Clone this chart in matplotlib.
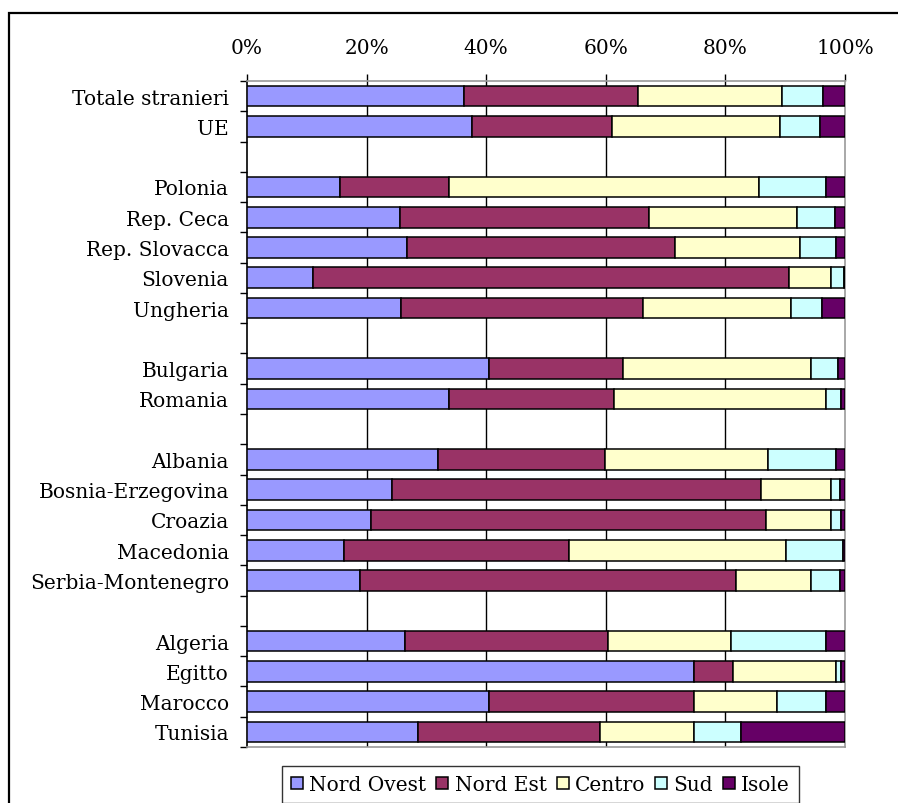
import matplotlib
matplotlib.use("Agg")
import matplotlib.pyplot as plt
from matplotlib.patches import Rectangle
import numpy as np

# Rows top to bottom; "" marks an empty spacer row between country groups.
categories = [
    "Totale stranieri", "UE", "",
    "Polonia", "Rep. Ceca", "Rep. Slovacca", "Slovenia", "Ungheria", "",
    "Bulgaria", "Romania", "",
    "Albania", "Bosnia-Erzegovina", "Croazia", "Macedonia", "Serbia-Montenegro", "",
    "Algeria", "Egitto", "Marocco", "Tunisia",
]

# Percentage share by macro-area (0 on spacer rows)
nord_ovest = [36.3, 37.6, 0, 15.6, 25.6, 26.8, 11.0, 25.8, 0, 40.4, 33.7, 0,
              31.9, 24.3, 20.7, 16.2, 18.9, 0, 26.4, 74.7, 40.5, 28.6]
nord_est = [29.1, 23.5, 0, 18.1, 41.6, 44.7, 79.7, 40.5, 0, 22.5, 27.7, 0,
            28.0, 61.7, 66.1, 37.7, 62.8, 0, 33.9, 6.6, 34.2, 30.4]
centro = [24.1, 28.1, 0, 51.9, 24.7, 21.0, 6.9, 24.7, 0, 31.4, 35.5, 0,
          27.2, 11.6, 10.8, 36.2, 12.6, 0, 20.7, 17.2, 13.9, 15.7]
sud = [6.9, 6.7, 0, 11.3, 6.4, 6.0, 2.2, 5.2, 0, 4.6, 2.5, 0,
       11.4, 1.6, 1.8, 9.6, 4.9, 0, 15.8, 0.8, 8.1, 7.9]
isole = [3.6, 4.1, 0, 3.1, 1.7, 1.5, 0.2, 3.8, 0, 1.1, 0.6, 0,
         1.5, 0.8, 0.6, 0.3, 0.8, 0, 3.2, 0.7, 3.2, 17.4]

series = [
    ("Nord Ovest", nord_ovest, "#9999FF"),
    ("Nord Est", nord_est, "#993366"),
    ("Centro", centro, "#FFFFCC"),
    ("Sud", sud, "#CCFFFF"),
    ("Isole", isole, "#660066"),
]

plt.rcParams["font.family"] = ["DejaVu Serif"]
FS = 14.5

W, H = 898, 804
fig = plt.figure(figsize=(W / 100, H / 100), dpi=100)
ax = fig.add_axes([247 / W, 1 - 748 / H, (845 - 247) / W, (748 - 82) / H])

y = np.arange(len(categories))
total = np.sum([np.array(s[1], dtype=float) for s in series], axis=0)
mask = total > 0
left = np.zeros(len(categories))
handles = []
for name, vals, color in series:
    vals = np.array(vals, dtype=float)
    share = np.divide(vals, total, out=np.zeros_like(vals), where=mask) * 100
    bars = ax.barh(y[mask], share[mask], left=left[mask], height=0.68,
                   color=color, edgecolor="black", linewidth=1.1, zorder=3)
    handles.append(bars)
    left += share

ax.set_xlim(0, 100)
ax.set_ylim(len(categories) - 0.5, -0.5)

# percent axis on top, black vertical gridlines
ax.xaxis.tick_top()
ax.set_xticks([0, 20, 40, 60, 80, 100])
ax.set_xticklabels([f"{v}%" for v in range(0, 101, 20)], fontsize=FS)
ax.tick_params(axis="x", direction="out", length=5, width=1, pad=12, color="black")
for v in [20, 40, 60, 80]:
    ax.axvline(v, color="black", lw=1, zorder=1)

# category labels centred on rows, tick marks on row boundaries
ax.set_yticks(y)
ax.set_yticklabels(categories, fontsize=FS)
ax.tick_params(axis="y", which="major", length=0, pad=13)
ax.set_yticks(np.arange(len(categories) + 1) - 0.5, minor=True)
ax.tick_params(axis="y", which="minor", direction="out", length=5, width=1, color="black")

for side in ["top", "right", "bottom"]:
    ax.spines[side].set_color("#999999")
    ax.spines[side].set_linewidth(1.2)
ax.spines["left"].set_color("black")
ax.spines["left"].set_linewidth(1.2)

leg = fig.legend(handles, [s[0] for s in series], ncol=5, loc="upper left",
                 bbox_to_anchor=(282 / W, 1 - 767 / H), borderaxespad=0,
                 fontsize=FS, frameon=True, fancybox=False, edgecolor="black",
                 handlelength=0.6, handleheight=0.6, handletextpad=0.3,
                 columnspacing=0.5, borderpad=0.45)
leg.get_frame().set_linewidth(1.0)

# outer chart frame, open on the right and bottom
fig.patches.append(Rectangle((8.5 / W, -0.05), 1.1, 1.05 - 13.5 / H,
                             transform=fig.transFigure, fill=False,
                             edgecolor="black", linewidth=1.6))

fig.savefig("out.png", dpi=100)
